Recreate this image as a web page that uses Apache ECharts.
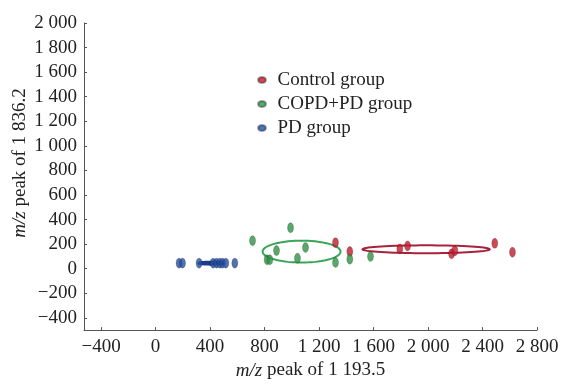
<!DOCTYPE html>
<html>
<head>
<meta charset="utf-8">
<script src="https://cdn.jsdelivr.net/npm/echarts@6/dist/echarts.min.js"></script>
<style>html,body{margin:0;padding:0;background:#fff}#c{width:562px;height:385px}</style>
</head>
<body>
<div id="c"></div>
<script>
// ---- data ----
const seriesNames = ['Control group', 'COPD+PD group', 'PD group'];
const controlGroup = [[1321, 212], [1426, 139], [1793, 161], [1850, 185], [2173, 121], [2197, 145], [2490, 206], [2620, 134]];
const copdPdGroup = [[712, 228], [991, 333], [888, 147], [1101, 172], [1042, 85], [819, 72], [839, 72], [1321, 51], [1426, 77], [1578, 99]];
const pdGroup = [[173, 45], [198, 45], [320, 45], [423, 45], [448, 45], [472, 45], [492, 45], [516, 45], [582, 45]];
// confidence ellipses: [centerX, centerY, radiusX, radiusY]
const controlEllipse = [1986, 158, 467, 32];
const copdPdEllipse = [1072, 139, 286, 89];
const pdEllipse = [406, 45, 88, 10];
const xTicks = [-400, 0, 400, 800, 1200, 1600, 2000, 2400, 2800];
const yTicks = [-400, -200, 0, 200, 400, 600, 800, 1000, 1200, 1400, 1600, 1800, 2000];
const xRange = [-525, 2800];
const yRange = [-500, 2000];

const colors = {
  control: '#c01c2c', controlLine: '#a8223c',
  copd: '#2f9145', copdLine: '#3aa556',
  pd: '#254ea0', pdLine: '#1c3a8e'
};
const FONT = '"Liberation Serif", "DejaVu Serif", serif';

function fmt(v) {
  const a = Math.abs(v);
  let s = String(a);
  if (a >= 1000) s = s.slice(0, s.length - 3) + ' ' + s.slice(s.length - 3);
  return (v < 0 ? '\u2212' : '') + s;
}

function ellipseSeries(name, params, color, width) {
  return {
    type: 'custom',
    name: name,
    data: [params],
    silent: true,
    z: 1,
    renderItem: function (p, api) {
      const cx = api.value(0), cy = api.value(1), rx = api.value(2), ry = api.value(3);
      const pts = [];
      for (let i = 0; i <= 72; i++) {
        const t = i / 72 * Math.PI * 2;
        pts.push(api.coord([cx + rx * Math.cos(t), cy + ry * Math.sin(t)]));
      }
      return {
        type: 'polygon',
        shape: { points: pts },
        style: { fill: 'none', stroke: color, lineWidth: width }
      };
    }
  };
}

function scatter(name, data, color) {
  return {
    type: 'scatter',
    name: name,
    data: data,
    symbol: 'circle',
    symbolSize: [6, 10],
    z: 3,
    itemStyle: { color: color, borderColor: 'rgba(0,0,0,0.4)', borderWidth: 0.6 }
  };
}

const chart = echarts.init(document.getElementById('c'), null, { renderer: 'canvas' });
chart.setOption({
  animation: false,
  backgroundColor: '#fff',
  grid: { left: 84, right: 25, top: 23, bottom: 50, containLabel: false },
  legend: {
    data: seriesNames,
    orient: 'vertical',
    left: 252,
    top: 65,
    itemGap: 4,
    itemWidth: 21,
    itemHeight: 6,
    icon: 'path://M0,3 A4,3 0 1,1 8,3 A4,3 0 1,1 0,3 Z',
    textStyle: { fontFamily: FONT, fontSize: 19, color: '#222', lineHeight: 20 }
  },
  xAxis: {
    type: 'value',
    min: xRange[0], max: xRange[1],
    name: '{i|m/z} peak of 1 193.5',
    nameLocation: 'middle',
    nameGap: 30,
    nameTextStyle: {
      fontFamily: FONT, fontSize: 19, color: '#222',
      rich: { i: { fontFamily: FONT, fontSize: 19, fontStyle: 'italic', color: '#222' } }
    },
    axisLine: { show: true, onZero: false, lineStyle: { color: '#555', width: 1 } },
    axisTick: { show: true, inside: true, length: 3, customValues: xTicks, lineStyle: { color: '#555' } },
    axisLabel: { customValues: xTicks, formatter: fmt, fontFamily: FONT, fontSize: 19, color: '#222', margin: 7 },
    splitLine: { show: false }
  },
  yAxis: {
    type: 'value',
    min: yRange[0], max: yRange[1],
    axisLine: { show: true, onZero: false, lineStyle: { color: '#555', width: 1 } },
    axisTick: { show: true, inside: true, length: 3, customValues: yTicks, lineStyle: { color: '#555' } },
    axisLabel: { customValues: yTicks, formatter: fmt, fontFamily: FONT, fontSize: 19, color: '#222', margin: 7 },
    splitLine: { show: false }
  },
  graphic: [{
    type: 'text',
    x: 20, y: 163,
    rotation: Math.PI / 2,
    style: {
      text: '{i|m/z} peak of 1 836.2',
      fontFamily: FONT, fontSize: 19, fill: '#222',
      align: 'center', verticalAlign: 'middle',
      textAlign: 'center', textVerticalAlign: 'middle',
      rich: { i: { fontFamily: FONT, fontSize: 19, fontStyle: 'italic', fill: '#222' } }
    }
  }],
  series: [
    ellipseSeries('controlEllipse', controlEllipse, colors.controlLine, 2),
    ellipseSeries('copdEllipse', copdPdEllipse, colors.copdLine, 2),
    ellipseSeries('pdEllipse', pdEllipse, colors.pdLine, 2.5),
    scatter(seriesNames[0], controlGroup, colors.control),
    scatter(seriesNames[1], copdPdGroup, colors.copd),
    scatter(seriesNames[2], pdGroup, colors.pd)
  ]
});
</script>
</body>
</html>
